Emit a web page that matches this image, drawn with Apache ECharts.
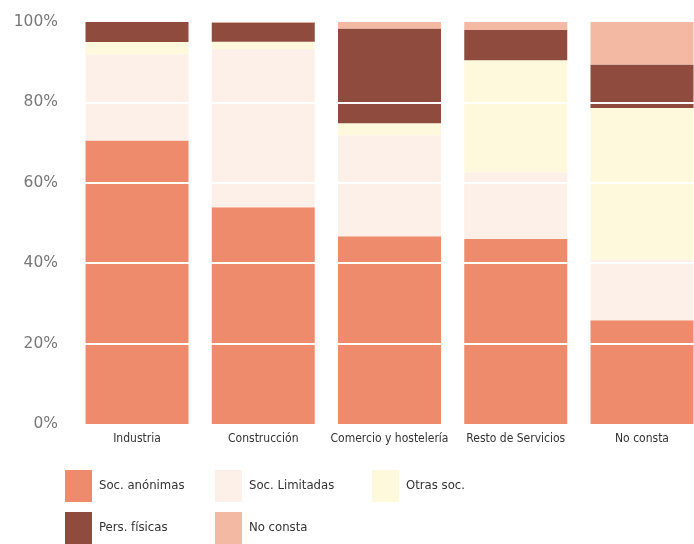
<!DOCTYPE html>
<html>
<head>
<meta charset="utf-8">
<script src="https://cdn.jsdelivr.net/npm/echarts@6/dist/echarts.min.js"></script>
<style>
  html, body { margin: 0; padding: 0; background: #fff; }
  #chart { width: 694px; height: 544px; }
</style>
</head>
<body>
<div id="chart"></div>
<script>
// categories (x axis)
const sectors = ["Industria", "Construcción", "Comercio y hostelería", "Resto de Servicios", "No consta"];
// series names, bottom to top of each stack
const seriesNames = ["Soc. anónimas", "Soc. Limitadas", "Otras soc.", "Pers. físicas", "No consta"];
// values in % per sector
const socAnonimas = [70.5, 53.9, 46.7, 46.0, 25.8];
const socLimitadas = [21.5, 39.4, 25.1, 16.6, 15.1];
const otrasSoc = [3.0, 1.8, 3.0, 27.9, 37.7];
const persFisicas = [5.0, 4.8, 23.6, 7.5, 10.8];
const noConsta = [0.0, 0.1, 1.6, 2.0, 10.6];
const colors = ["#ef8b6d", "#fdf0e8", "#fef9dc", "#8e4b3e", "#f4b9a2"];

const allValues = [socAnonimas, socLimitadas, otrasSoc, persFisicas, noConsta];

const chart = echarts.init(document.getElementById("chart"));

const narrow = "'DejaVu Sans Condensed', 'Liberation Sans Narrow', sans-serif";

// legend boxes, one per item
const legendPos = [
  [65, 470], [215, 470], [372, 470],
  [65, 512], [215, 512]
];

const option = {
  backgroundColor: "#ffffff",
  animation: false,
  grid: [
    // bars: category ticks sit on bar centres
    { left: 137, right: 52, top: 22, height: 402 },
    // white gridlines drawn over the full width of the bars
    { left: 84, right: 0, top: 22, height: 402 }
  ],
  legend: seriesNames.map((name, i) => ({
    data: [name],
    left: legendPos[i][0],
    top: legendPos[i][1],
    padding: 0,
    itemWidth: 27,
    itemHeight: 32,
    icon: "rect",
    textStyle: {
      fontFamily: narrow,
      fontSize: 13,
      color: "#333",
      padding: [0, 0, 0, 2]
    }
  })),
  xAxis: [
    {
      type: "category",
      gridIndex: 0,
      data: sectors,
      boundaryGap: false,
      axisLine: { show: false },
      axisTick: { show: false },
      axisLabel: {
        interval: 0,
        margin: 9,
        fontFamily: narrow,
        fontSize: 12,
        color: "#333"
      }
    },
    { type: "value", gridIndex: 1, show: false }
  ],
  yAxis: [
    {
      type: "value",
      gridIndex: 0,
      min: 0,
      max: 100,
      interval: 20,
      axisLine: { show: false },
      axisTick: { show: false },
      axisLabel: {
        formatter: "{value}%",
        margin: 79,
        fontFamily: "'DejaVu Sans', sans-serif",
        fontSize: 15.5,
        color: "#777"
      },
      splitLine: { show: false }
    },
    {
      type: "value",
      gridIndex: 1,
      min: 0,
      max: 100,
      interval: 20,
      z: 10,
      axisLine: { show: false },
      axisTick: { show: false },
      axisLabel: { show: false },
      splitLine: {
        show: true,
        showMinLine: false,
        showMaxLine: false,
        lineStyle: { color: "#ffffff", width: 2 }
      }
    }
  ],
  series: seriesNames.map((name, i) => ({
    name: name,
    type: "bar",
    stack: "total",
    barWidth: 103,
    itemStyle: { color: colors[i] },
    data: allValues[i]
  }))
};

chart.setOption(option);
</script>
</body>
</html>
